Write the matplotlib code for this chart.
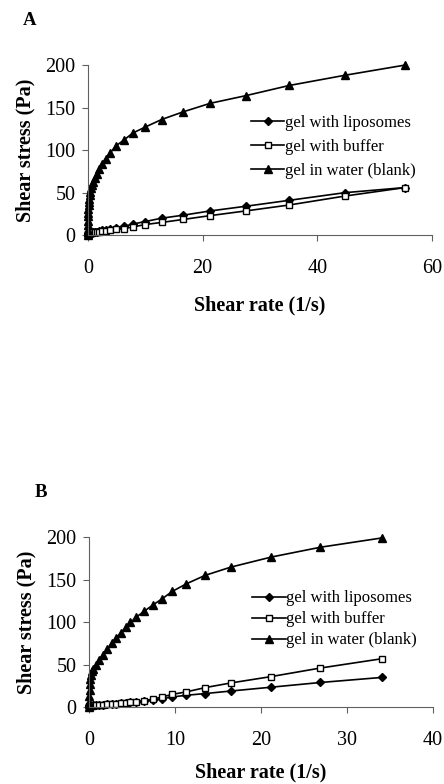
import numpy as np
import matplotlib.pyplot as plt

plt.rcParams['font.family'] = ['Liberation Serif', 'DejaVu Serif']

# panel A data (shear rate 1/s, shear stress Pa)
rate_a = [0, 0.01, 0.02, 0.03, 0.05, 0.07, 0.1, 0.14, 0.19, 0.25, 0.33, 0.43,
          0.55, 0.7, 0.9, 1.15, 1.5, 1.95, 2.45, 3.1, 3.9, 4.9, 6.3, 7.8,
          9.95, 12.85, 16.6, 21.3, 27.5, 35.1, 44.8, 55.3]
lipo_a = [0, 0.5, 0.7, 0.9, 1.1, 1.3, 1.5, 1.7, 1.9, 2.1, 2.3, 2.5,
          2.8, 3.1, 3.4, 3.8, 4.3, 4.9, 5.7, 6.6, 7.6, 9.0, 10.5, 13.0,
          16.0, 20.0, 23.5, 28.5, 34.0, 41.0, 50.0, 56.0]
buf_a = [0, 0.4, 0.6, 0.8, 1.0, 1.2, 1.4, 1.6, 1.8, 2.0, 2.2, 2.4,
         2.6, 2.9, 3.2, 3.5, 3.9, 4.3, 4.8, 5.4, 6.0, 6.8, 7.8, 9.6,
         12.5, 15.0, 18.5, 23.0, 28.5, 35.5, 46.0, 56.0]
blank_a = [0, 6, 12, 17, 22, 26, 31, 35, 39, 43, 47, 51,
           55, 59, 63, 67, 72, 78, 84, 90, 97, 105, 112, 120,
           127, 136, 145, 155, 164, 176, 188, 200]

# panel B data
rate_b = [0, 0.01, 0.02, 0.04, 0.07, 0.12, 0.2, 0.3, 0.47, 0.78, 1.16, 1.63,
          2.1, 2.6, 3.1, 3.64, 4.26, 4.8, 5.5, 6.36, 7.44, 8.5, 9.65, 11.3,
          13.5, 16.5, 21.2, 26.9, 34.1]
lipo_b = [0, 0.6, 0.9, 1.2, 1.4, 1.6, 1.8, 1.9, 2.0, 2.2, 2.5, 2.9,
          3.3, 3.8, 4.2, 4.7, 5.3, 5.8, 6.5, 7.0, 8.0, 10.0, 12.0, 14.0,
          16.0, 19.0, 23.5, 29.0, 35.0]
buf_b = [0, 0.5, 0.8, 1.1, 1.3, 1.5, 1.6, 1.8, 2.0, 2.2, 2.5, 2.8,
         3.2, 3.6, 4.0, 4.5, 5.2, 5.8, 6.5, 7.5, 9.5, 12.0, 15.0, 18.0,
         23.0, 28.5, 36.0, 46.0, 57.0]
blank_b = [0, 6, 13, 20, 27, 33, 38, 42, 45, 50, 55.7, 61.5,
           68, 75, 81, 87, 94, 99.6, 106, 112.5, 120.4, 127.5, 136, 145,
           155, 164.7, 176.5, 188, 199]

labels = ['gel with liposomes', 'gel with buffer', 'gel in water (blank)']


def draw_panel(ax, rate, lipo, buf, blank, xmax, xstep, letter, leg_y, spacing,
               letter_x, xpad):
    ax.plot(rate, lipo, c='k', lw=1.2, marker='D', ms=4.5, mfc='k', mec='k',
            label=labels[0])
    ax.plot(rate, buf, c='k', lw=1.2, marker='s', ms=5, mfc='white', mec='k',
            mew=1.0, label=labels[1])
    ax.plot(rate, blank, c='k', lw=1.2, marker='^', ms=6, mfc='k', mec='k',
            label=labels[2])
    ax.set_xlim(0, xmax)
    ax.set_ylim(0, 200)
    ax.set_xticks(np.arange(0, xmax + 1, xstep))
    ax.set_yticks([0, 50, 100, 150, 200])
    for s in ['top', 'right']:
        ax.spines[s].set_visible(False)
    for s in ['left', 'bottom']:
        ax.spines[s].set_color('#606060')
        ax.spines[s].set_linewidth(0.8)
    ax.tick_params(labelsize=14.5, length=4, width=0.8, color='#606060', pad=5)
    ax.tick_params(axis='x', pad=13)
    for ln in ax.lines:
        ln.set_clip_on(False)
    ax.set_xlabel('Shear rate (1/s)', fontsize=14.5, fontweight='bold', labelpad=xpad)
    ax.set_ylabel('Shear stress (Pa)', fontsize=14.5, fontweight='bold', labelpad=7)
    ax.legend(loc='upper left', bbox_to_anchor=(0.455, leg_y), frameon=False,
              fontsize=12, handlelength=2.0, handletextpad=0.05,
              labelspacing=spacing, borderaxespad=0)
    ax.text(letter_x, 1.26, letter, transform=ax.transAxes, fontsize=13.5,
            fontweight='bold', va='center')


fig = plt.figure(figsize=(4.44, 7.84), dpi=100)
ax_a = fig.add_axes([0.198, 0.700, 0.775, 0.217])
ax_b = fig.add_axes([0.201, 0.098, 0.774, 0.217])

draw_panel(ax_a, rate_a, lipo_a, buf_a, blank_a, 60, 20, 'A', 0.745, 0.48, -0.19, 13)
draw_panel(ax_b, rate_b, lipo_b, buf_b, blank_b, 40, 10, 'B', 0.725, 0.3, -0.16, 9)

fig.savefig('out.png', dpi=100)
